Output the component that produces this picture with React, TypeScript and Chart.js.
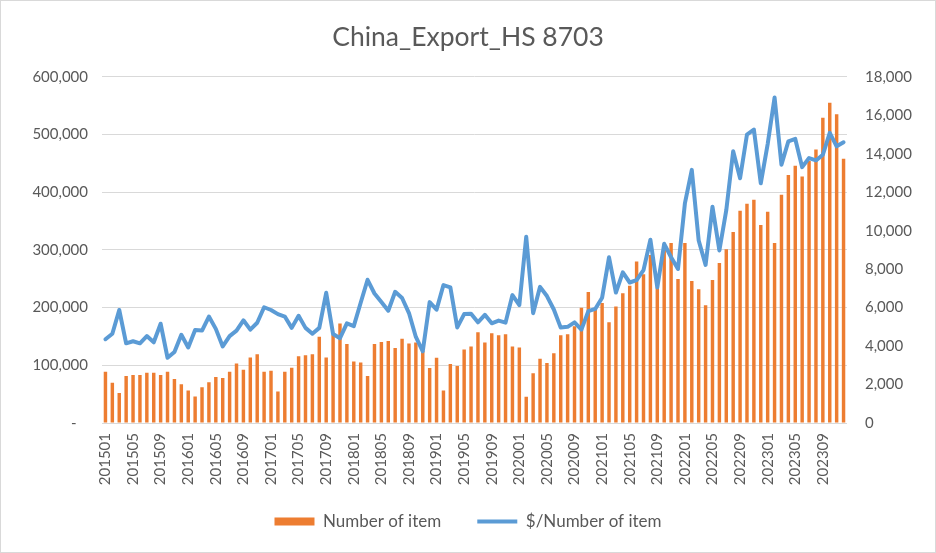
import React, { useEffect, useRef } from "react";
import { Chart, registerables } from "chart.js";

Chart.register(...registerables);

// Monthly categories 201501 .. 202312
const years = [2015, 2016, 2017, 2018, 2019, 2020, 2021, 2022, 2023];
const monthCodes = ["01", "02", "03", "04", "05", "06", "07", "08", "09", "10", "11", "12"];
const categories: string[] = [];
years.forEach((y) => monthCodes.forEach((m) => categories.push(`${y}${m}`)));

// Number of item (left axis)
const numberOfItem = [
  88700, 69600, 51800, 81500, 83300, 83300, 86900, 86900, 83300, 88700, 76200, 67300,
  56500, 45800, 61900, 70800, 79800, 78000, 88700, 103000, 92300, 113700, 119000, 88700,
  90500, 54800, 88700, 95800, 115500, 117300, 119000, 149400, 113700, 153000, 172600, 136900,
  106500, 104800, 81500, 136900, 140500, 142300, 129800, 145800, 137900, 139600, 125000, 95300,
  113000, 56200, 102400, 98800, 127200, 132500, 157400, 139600, 155600, 152000, 153800, 132500,
  130800, 45600, 86400, 111200, 104100, 121000, 152000, 153800, 167800, 199900, 227000, 198000,
  208000, 174800, 202000, 225000, 238000, 280000, 258000, 291000, 235000, 310600, 311800, 249400,
  311800, 246000, 232000, 204000, 247700, 277400, 301300, 331000, 367700, 380000, 387000, 343000,
  366000, 311800, 395700, 430000, 445800, 427000, 454000, 473800, 529000, 555000, 535000, 458000,
];

// $/Number of item (right axis)
const dollarPerItem = [
  4357, 4643, 5875, 4143, 4250, 4143, 4518, 4196, 5161, 3393, 3696, 4589,
  3929, 4839, 4804, 5536, 4893, 3982, 4518, 4804, 5339, 4857, 5214, 6018,
  5875, 5661, 5536, 4946, 5571, 4946, 4643, 4946, 6768, 4625, 4411, 5179,
  5036, 6250, 7446, 6732, 6286, 5839, 6821, 6500, 5716, 4473, 3728, 6284,
  5893, 7171, 7047, 4970, 5662, 5680, 5236, 5627, 5183, 5325, 5219, 6650,
  6130, 9680, 5710, 7080, 6600, 5900, 4960, 5000, 5230, 4855, 5815, 5930,
  6515, 8615, 6780, 7830, 7305, 7430, 7950, 9527, 7044, 9317, 8618, 8006,
  11414, 13162, 9491, 8220, 11240, 8967, 11065, 14124, 12725, 14998, 15260, 12463,
  14500, 16921, 13425, 14648, 14771, 13302, 13774, 13652, 13949, 15085, 14386, 14596,
];

const chartTitle = "China_Export_HS 8703";
const barLabel = "Number of item";
const lineLabel = "$/Number of item";

const ORANGE = "#ED7D31";
const BLUE = "#5B9BD5";
const TEXT = "#595959";
const GRID = "#D9D9D9";
const FONT = "Lato, 'Open Sans', sans-serif";

const frame = {
  id: "frame",
  beforeDraw(chart: any) {
    const { ctx, width, height } = chart;
    ctx.save();
    ctx.fillStyle = "#ffffff";
    ctx.fillRect(0, 0, width, height);
    ctx.strokeStyle = GRID;
    ctx.lineWidth = 1;
    ctx.strokeRect(0.5, 0.5, width - 1, height - 1);
    ctx.restore();
  },
};

export default function App() {
  const ref = useRef<HTMLCanvasElement>(null);

  useEffect(() => {
    const chart = new Chart(ref.current as HTMLCanvasElement, {
      data: {
        labels: categories,
        datasets: [
          {
            type: "bar",
            label: barLabel,
            data: numberOfItem,
            yAxisID: "y",
            backgroundColor: ORANGE,
            borderWidth: 0,
            barPercentage: 0.5,
            categoryPercentage: 1,
            order: 1,
          } as any,
          {
            type: "line",
            label: lineLabel,
            data: dollarPerItem,
            yAxisID: "y1",
            borderColor: BLUE,
            backgroundColor: BLUE,
            borderWidth: 4,
            pointRadius: 0,
            tension: 0,
            borderJoinStyle: "round",
            borderCapStyle: "round",
            order: 0,
          } as any,
        ],
      },
      options: {
        responsive: false,
        animation: false,
        layout: { padding: { top: 0, bottom: 13, left: 0, right: 0 } },
        plugins: {
          title: {
            display: true,
            text: chartTitle,
            color: TEXT,
            font: { family: FONT, size: 26.5, weight: "normal" },
            padding: { top: 22, bottom: 23 },
          },
          legend: {
            display: true,
            position: "bottom",
            labels: {
              usePointStyle: true,
              pointStyleWidth: 40,
              boxHeight: 8,
              padding: 10,
              color: TEXT,
              font: { family: FONT, size: 17 },
              generateLabels: (c: any) => [
                {
                  text: c.data.datasets[0].label + "      ",
                  fillStyle: ORANGE,
                  strokeStyle: ORANGE,
                  lineWidth: 0,
                  pointStyle: "rect",
                  datasetIndex: 0,
                  hidden: false,
                  fontColor: TEXT,
                },
                {
                  text: c.data.datasets[1].label,
                  fillStyle: BLUE,
                  strokeStyle: BLUE,
                  lineWidth: 4,
                  pointStyle: "line",
                  datasetIndex: 1,
                  hidden: false,
                  fontColor: TEXT,
                },
              ],
            },
          },
          tooltip: { enabled: false },
        },
        scales: {
          x: {
            type: "category",
            offset: true,
            grid: { display: false, drawTicks: false },
            border: { display: false },
            ticks: {
              autoSkip: false,
              maxRotation: 90,
              minRotation: 90,
              padding: 10,
              color: TEXT,
              font: { family: FONT, size: 15 },
              callback: function (this: any, v: any, i: number) {
                return i % 4 === 0 ? this.getLabelForValue(v) : "";
              },
            },
            afterFit: (s: any) => {
              s.height = 80;
            },
          },
          y: {
            type: "linear",
            position: "left",
            min: 0,
            max: 600000,
            grid: { color: GRID, lineWidth: 1, drawTicks: false },
            border: { display: false },
            ticks: {
              stepSize: 100000,
              padding: 14,
              color: TEXT,
              font: { family: FONT, size: 15 },
              callback: (v: any) => (Number(v) === 0 ? "-   " : Number(v).toLocaleString("en-US")),
            },
            afterFit: (s: any) => {
              s.width = 102;
            },
          },
          y1: {
            type: "linear",
            position: "right",
            min: 0,
            max: 18000,
            grid: { display: false, drawTicks: false },
            border: { display: false },
            ticks: {
              stepSize: 2000,
              padding: 18,
              color: TEXT,
              font: { family: FONT, size: 15 },
              callback: (v: any) => Number(v).toLocaleString("en-US"),
            },
            afterFit: (s: any) => {
              s.width = 89;
            },
          },
        },
      } as any,
      plugins: [frame],
    });
    return () => chart.destroy();
  }, []);

  return (
    <div style={{ position: "fixed", left: 0, top: 0, width: 936, height: 553 }}>
      <canvas ref={ref} width={936} height={553} style={{ display: "block" }} />
    </div>
  );
}
